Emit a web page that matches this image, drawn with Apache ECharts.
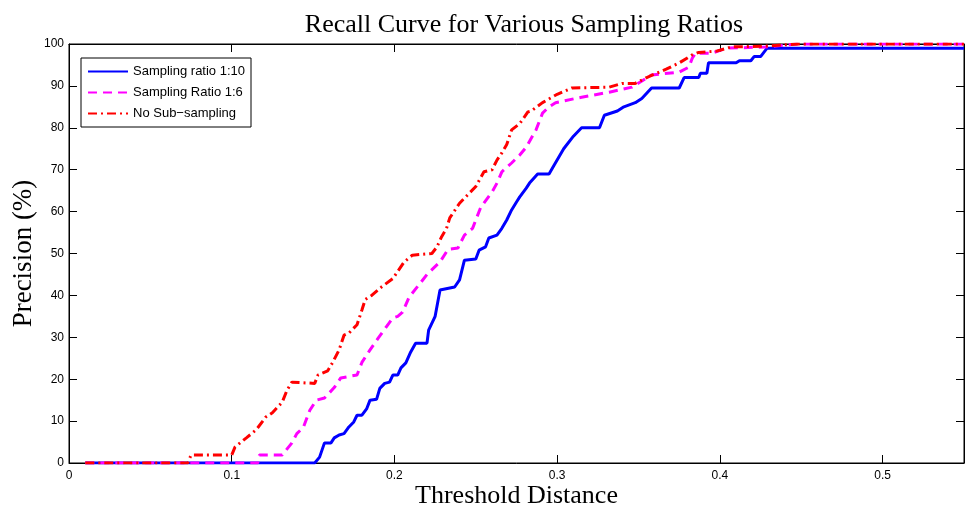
<!DOCTYPE html>
<html>
<head>
<meta charset="UTF-8">
<title>Recall Curve</title>
<style type="text/css">
	html, body { margin: 0; padding: 0; background: #fff; }
	#chart { width: 965px; height: 510px; }
</style>
<script type="text/javascript" src="https://cdn.jsdelivr.net/npm/echarts@6/dist/echarts.min.js"></script>
</head>
<body>
<div id="chart"></div>
<script type="text/javascript">
// threshold distance / precision pairs
var ratio10X = [0.01, 0.151, 0.154, 0.157, 0.161, 0.163, 0.166, 0.169, 0.172, 0.175, 0.177, 0.180, 0.183, 0.185, 0.189, 0.191, 0.194, 0.197, 0.199, 0.202, 0.204, 0.207, 0.210, 0.213, 0.220, 0.221, 0.225, 0.228, 0.237, 0.240, 0.243, 0.250, 0.252, 0.256, 0.258, 0.263, 0.266, 0.269, 0.272, 0.275, 0.277, 0.281, 0.283, 0.288, 0.295, 0.298, 0.304, 0.310, 0.315, 0.326, 0.329, 0.337, 0.341, 0.348, 0.352, 0.358, 0.375, 0.378, 0.387, 0.388, 0.392, 0.393, 0.410, 0.412, 0.419, 0.421, 0.425, 0.427, 0.429, 0.55];
var ratio10Y = [0, 0, 1.4, 4.8, 4.8, 6, 6.7, 7, 8.6, 9.8, 11.4, 11.4, 13, 15, 15.2, 17.8, 19, 19.3, 21, 21, 22.7, 23.9, 26.5, 28.6, 28.6, 31.7, 35, 41.3, 42, 43.7, 48.4, 48.7, 50.8, 51.6, 53.7, 54.4, 56, 58, 60.4, 62.3, 63.5, 65.6, 66.8, 69, 69, 71, 75, 78, 80, 80, 83, 84, 85, 86, 87, 89.5, 89.5, 92, 92, 93, 93, 95.5, 95.5, 96, 96, 97, 97, 98, 99, 99];

var ratio6X = [0.01, 0.116, 0.117, 0.131, 0.137, 0.140, 0.144, 0.148, 0.152, 0.157, 0.163, 0.167, 0.177, 0.180, 0.185, 0.190, 0.195, 0.199, 0.202, 0.205, 0.209, 0.215, 0.220, 0.228, 0.233, 0.239, 0.243, 0.248, 0.253, 0.260, 0.263, 0.266, 0.272, 0.277, 0.281, 0.287, 0.291, 0.295, 0.299, 0.315, 0.332, 0.346, 0.358, 0.375, 0.381, 0.383, 0.385, 0.395, 0.404, 0.428, 0.448, 0.55];
var ratio6Y = [0, 0, 1.9, 1.9, 4.8, 7, 8.5, 12.6, 15, 15.5, 18, 20.3, 21, 24, 27, 29.8, 32.5, 34.6, 35, 36, 39.6, 42.5, 45, 48, 51, 51.3, 54.4, 56, 61, 64.7, 66.8, 69.5, 71.6, 73.5, 75.4, 79.5, 83.5, 85, 86, 87.3, 88.5, 89.7, 92.6, 93.3, 94.5, 96.6, 97.8, 97.8, 99, 99.3, 100, 100];

var fullX = [0.01, 0.073, 0.075, 0.100, 0.102, 0.109, 0.115, 0.121, 0.125, 0.131, 0.134, 0.137, 0.151, 0.153, 0.159, 0.162, 0.166, 0.169, 0.172, 0.177, 0.180, 0.182, 0.186, 0.192, 0.199, 0.206, 0.211, 0.223, 0.226, 0.229, 0.232, 0.234, 0.240, 0.246, 0.250, 0.255, 0.260, 0.263, 0.266, 0.269, 0.272, 0.277, 0.282, 0.284, 0.291, 0.300, 0.309, 0.332, 0.340, 0.348, 0.355, 0.367, 0.375, 0.383, 0.387, 0.398, 0.407, 0.428, 0.448, 0.55];
var fullY = [0, 0, 1.9, 1.9, 3.8, 6, 7.9, 11, 12, 14.5, 17.4, 19.3, 19, 21, 22, 24, 27, 30.5, 31, 33, 36.5, 39, 40, 42, 44, 48, 49.6, 50, 51.5, 54, 56, 58.5, 62, 64.4, 66, 69.5, 70, 72.3, 74, 76, 79.5, 81, 83.8, 84, 86, 88, 89.5, 89.7, 90.6, 90.6, 92, 94, 95.5, 97.4, 98, 98.3, 99.3, 99.5, 100, 100];

var xTicks = { min: 0, max: 0.55, interval: 0.1 };
var yTicks = { min: 0, max: 100, interval: 10 };

function pairs(xs, ys) {
	var out = [];
	for (var i = 0; i < xs.length; i++) out.push([xs[i], ys[i]]);
	return out;
}

var mychar = echarts.init(document.getElementById('chart'));

var labelFont = { fontFamily: 'Liberation Sans', fontSize: 12, color: '#000' };
var boxAxis = {
	axisLine: { show: true, onZero: false, lineStyle: { color: '#000', width: 1 } },
	axisTick: { show: true, inside: true, length: 8, lineStyle: { color: '#000' } },
	splitLine: { show: false }
};

var option = {
	animation: false,
	backgroundColor: '#fff',
	title: {
		text: 'Recall Curve for Various Sampling Ratios',
		left: 519, top: 7, textAlign: 'center',
		textStyle: { fontFamily: 'Liberation Serif', fontSize: 26, fontWeight: 'normal', color: '#000' }
	},
	grid: {
		left: 69, right: 1, top: 44, bottom: 47,
		outerBoundsMode: 'none', containLabel: false,
		show: true, borderColor: '#000', borderWidth: 1
	},
	legend: {
		orient: 'vertical', left: 81, top: 58,
		padding: [7, 6, 7, 6],
		backgroundColor: '#fff', borderColor: '#000', borderWidth: 1,
		itemWidth: 40, itemHeight: 14, itemGap: 8,
		itemStyle: { opacity: 0 },
		textStyle: { fontFamily: 'Liberation Sans', fontSize: 13, color: '#000' },
		data: ['Sampling ratio 1:10', 'Sampling Ratio 1:6', 'No Sub\u2212sampling']
	},
	xAxis: [
		Object.assign({
			type: 'value', position: 'bottom', min: xTicks.min, max: xTicks.max, interval: xTicks.interval,
			name: 'Threshold Distance', nameLocation: 'middle', nameGap: 20, nameMoveOverlap: false,
			nameTextStyle: { fontFamily: 'Liberation Serif', fontSize: 26, color: '#000' },
			axisLabel: Object.assign({ margin: 7, showMaxLabel: false }, labelFont)
		}, boxAxis),
		Object.assign({
			type: 'value', position: 'top', min: xTicks.min, max: xTicks.max, interval: xTicks.interval,
			axisLabel: { show: false }
		}, boxAxis)
	],
	yAxis: [
		Object.assign({
			type: 'value', position: 'left', min: yTicks.min, max: yTicks.max, interval: yTicks.interval,
			name: 'Precision (%)', nameLocation: 'middle', nameGap: 32, nameMoveOverlap: false,
			nameTextStyle: { fontFamily: 'Liberation Serif', fontSize: 27, color: '#000' },
			axisLabel: Object.assign({ margin: 5 }, labelFont)
		}, boxAxis),
		Object.assign({
			type: 'value', position: 'right', min: yTicks.min, max: yTicks.max, interval: yTicks.interval,
			axisLabel: { show: false }
		}, boxAxis)
	],
	series: [
		{
			name: 'Sampling ratio 1:10', type: 'line', symbol: 'none', z: 3,
			data: pairs(ratio10X, ratio10Y),
			itemStyle: { color: '#0000ff' },
			lineStyle: { color: '#0000ff', width: 3 }
		},
		{
			name: 'Sampling Ratio 1:6', type: 'line', symbol: 'none', z: 4,
			data: pairs(ratio6X, ratio6Y),
			itemStyle: { color: '#ff00ff' },
			lineStyle: { color: '#ff00ff', width: 3, type: [9, 6] }
		},
		{
			name: 'No Sub\u2212sampling', type: 'line', symbol: 'none', z: 5,
			data: pairs(fullX, fullY),
			itemStyle: { color: '#ff0000' },
			lineStyle: { color: '#ff0000', width: 3, type: [9, 4, 2, 4] }
		}
	]
};
mychar.setOption(option);
</script>
</body>
</html>
